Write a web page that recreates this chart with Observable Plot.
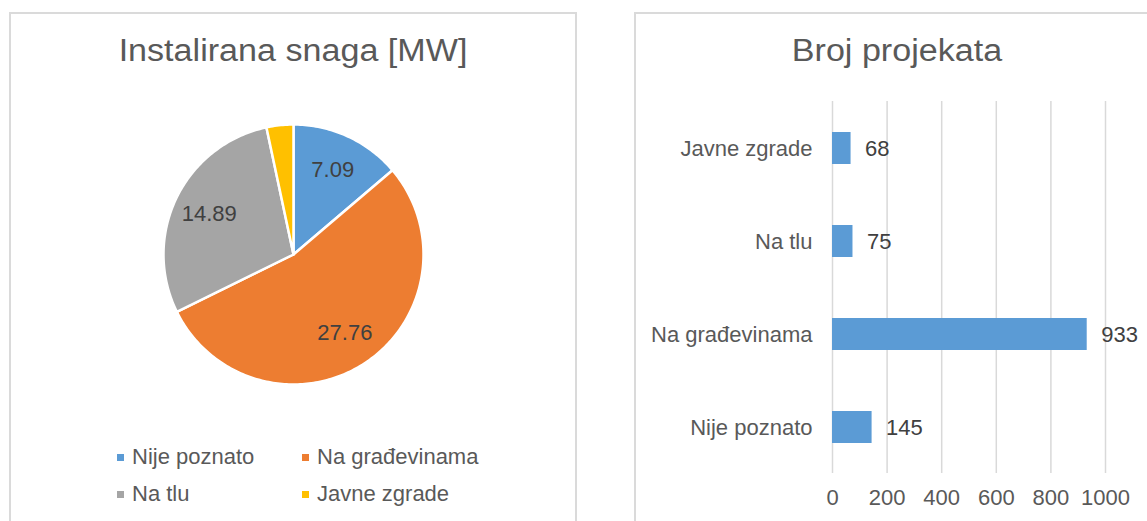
<!DOCTYPE html>
<html>
<head>
<meta charset="utf-8">
<script src="https://cdn.jsdelivr.net/npm/d3@7"></script>
<script src="https://cdn.jsdelivr.net/npm/@observablehq/plot@0.6"></script>
<style>
  html, body { margin: 0; padding: 0; background: #fff; }
  body { width: 1147px; height: 521px; position: relative; overflow: hidden;
         font-family: "Liberation Sans", Arial, sans-serif; color: #595959; }
  .panel { position: absolute; top: 12px; height: 560px; border: 2px solid #dadada; box-sizing: border-box; background: #fff; }
  .title { position: absolute; top: 35px; font-size: 31px; line-height: 31px; white-space: nowrap;
           transform: translateX(-50%) scaleX(1.1); transform-origin: center; color: #595959; }
  .chart { position: absolute; }
  .chart svg { overflow: visible; background: transparent; }
  .legend-item { position: absolute; font-size: 22px; line-height: 22px; white-space: nowrap; color: #595959; }
  .legend-swatch { position: absolute; width: 7px; height: 7px; }
</style>
</head>
<body>
<div class="panel" style="left:9px; width:568px;"></div>
<div class="panel" style="left:634px; width:600px;"></div>
<div class="title" id="t1" style="left:292.5px;"></div>
<div class="title" id="t2" style="left:897px;"></div>
<div class="chart" id="pie" style="left:143px; top:104px;"></div>
<div id="legend"></div>
<div class="chart" id="bars" style="left:640px; top:90px;"></div>
<script>
// ---------- data ----------
const pieTitle = "Instalirana snaga [MW]";
const pieCategories = ["Nije poznato", "Na građevinama", "Na tlu", "Javne zgrade"];
const pieValues = [7.09, 27.76, 14.89, 1.72];
const pieColors = ["#5b9bd5", "#ed7d31", "#a5a5a5", "#ffc000"];

const barTitle = "Broj projekata";
const barCategories = ["Javne zgrade", "Na tlu", "Na građevinama", "Nije poznato"];
const barValues = [68, 75, 933, 145];
const barTicks = [0, 200, 400, 600, 800, 1000];
const barColor = "#5b9bd5";

// ---------- titles ----------
document.getElementById("t1").textContent = pieTitle;
document.getElementById("t2").textContent = barTitle;

const FONT = '"Liberation Sans", Arial, sans-serif';

// ---------- pie (Plot.geo with identity projection) ----------
const total = d3.sum(pieValues);
const arcs = d3.pie().sort(null).value(d => d)(pieValues);
const slices = arcs.map((a, i) => {
  const pts = [[0, 0]];
  const n = Math.max(2, Math.ceil((a.endAngle - a.startAngle) / (Math.PI / 180)));
  for (let k = 0; k <= n; k++) {
    const t = a.startAngle + (a.endAngle - a.startAngle) * k / n;
    pts.push([Math.sin(t), -Math.cos(t)]);
  }
  pts.push([0, 0]);
  return {type: "Feature", properties: {category: pieCategories[i], value: pieValues[i]},
          geometry: {type: "Polygon", coordinates: [pts]}};
});
const pieLabels = arcs.map((a, i) => {
  const mid = (a.startAngle + a.endAngle) / 2;
  const r = pieValues[i] / total < 0.05 ? 1.12 : 0.72;
  return {x: Math.sin(mid) * r, y: -Math.cos(mid) * r, label: pieValues[i].toFixed(2)};
});

const pie = Plot.plot({
  width: 300, height: 300,
  marginTop: 20, marginBottom: 20, marginLeft: 20, marginRight: 20,
  style: {fontFamily: FONT, fontSize: "22px", background: "transparent", overflow: "visible"},
  projection: {type: "identity", domain: {type: "MultiPoint", coordinates: [[-1, -1], [1, 1]]}},
  color: {domain: pieCategories, range: pieColors},
  marks: [
    Plot.geo(slices, {fill: d => d.properties.category, stroke: "white", strokeWidth: 2.5}),
    Plot.text(pieLabels, {x: "x", y: "y", text: "label", fill: "#404040", fontSize: 22})
  ]
});
document.getElementById("pie").appendChild(pie);

// ---------- legend ----------
const legend = document.getElementById("legend");
const legendPos = [
  {sx: 117, tx: 132, cy: 457},
  {sx: 302, tx: 317, cy: 457},
  {sx: 117, tx: 132, cy: 494},
  {sx: 302, tx: 317, cy: 494}
];
pieCategories.forEach((c, i) => {
  const p = legendPos[i];
  const sw = document.createElement("div");
  sw.className = "legend-swatch";
  sw.style.left = p.sx + "px";
  sw.style.top = (p.cy - 3.5) + "px";
  sw.style.background = pieColors[i];
  legend.appendChild(sw);
  const tx = document.createElement("div");
  tx.className = "legend-item";
  tx.style.left = p.tx + "px";
  tx.style.top = (p.cy - 11) + "px";
  tx.textContent = c;
  legend.appendChild(tx);
});

// ---------- bar chart ----------
const barData = barCategories.map((c, i) => ({category: c, value: barValues[i]}));
const bars = Plot.plot({
  width: 507, height: 431,
  marginLeft: 192, marginRight: 42, marginTop: 11, marginBottom: 48,
  style: {fontFamily: FONT, fontSize: "22px", color: "#595959", background: "transparent", overflow: "visible"},
  x: {domain: [0, 1000]},
  y: {domain: barCategories, paddingInner: 0.656, paddingOuter: 0.328},
  marks: [
    Plot.gridX(barTicks, {stroke: "#d9d9d9", strokeOpacity: 1, strokeWidth: 1.5}),
    Plot.barX(barData, {x: "value", y: "category", fill: barColor}),
    Plot.text(barData, {x: "value", y: "category", text: d => String(d.value), dx: 14, textAnchor: "start", fill: "#404040", fontSize: 22}),
    Plot.axisY({tickSize: 0, tickPadding: 20, fontSize: 22, fill: "#595959", label: null}),
    Plot.axisX({ticks: barTicks, tickSize: 0, tickPadding: 16, fontSize: 22, fill: "#595959", tickFormat: d => String(d), label: null})
  ]
});
document.getElementById("bars").appendChild(bars);
</script>
</body>
</html>
